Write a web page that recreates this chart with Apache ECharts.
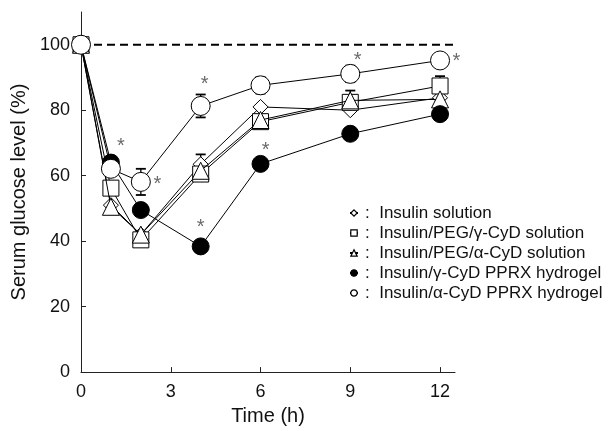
<!DOCTYPE html>
<html>
<head>
<meta charset="utf-8">
<script src="https://cdn.jsdelivr.net/npm/echarts@6/dist/echarts.min.js"></script>
<style>
  html, body { margin: 0; padding: 0; background: #fff; }
  #chart { width: 612px; height: 431px; }
</style>
</head>
<body>
<div id="chart"></div>
<script>
// time points (h)
const times = [0, 1, 2, 4, 6, 9, 12];
const xTicks = [0, 3, 6, 9, 12];
const yTicks = [0, 20, 40, 60, 80, 100];

// serum glucose level (%) per formulation
const insulinSol = [100, 51, 42, 63.5, 81, 80, 83.8];
const pegGamma   = [100, 56.2, 40.4, 60.5, 76.5, 82.4, 87.4];
const pegAlpha   = [100, 50.5, 42, 61.5, 77, 83, 83.3];
const gammaPprx  = [100, 64, 49.5, 38.4, 63.6, 72.8, 78.8];
const alphaPprx  = [100, 62.1, 58.1, 81.3, 87.6, 91.1, 95.2];

// error bars (S.E.), 0 where not visible
const errInsulin = [0, 0, 0, 3, 0, 0, 0];
const errPegGamma = [0, 2, 0, 0, 0, 0, 3];
const errPegAlpha = [0, 0, 0, 0, 0, 3, 0];
const errGammaPprx = [0, 0, 0, 0, 1.5, 0, 0];
const errAlphaPprx = [0, 0, 4, 3.5, 2.5, 2.5, 0];

// significance marks [time, level]
const stars = [[1.33, 70], [2.55, 58.5], [4.13, 89], [9.25, 96.5], [12.55, 96], [4.0, 45.5], [6.17, 69]];

const names = [
  'Insulin solution',
  'Insulin/PEG/γ-CyD solution',
  'Insulin/PEG/α-CyD solution',
  'Insulin/γ-CyD PPRX hydrogel',
  'Insulin/α-CyD PPRX hydrogel'
];

const chart = echarts.init(document.getElementById('chart'));

function lineSeries(name, vals, symbol, size, fill, z) {
  return {
    name: name,
    type: 'line',
    data: times.map((t, i) => [t, vals[i]]),
    symbol: symbol,
    symbolSize: size,
    showSymbol: true,
    z: z,
    lineStyle: { color: '#000', width: 1 },
    itemStyle: { color: fill, borderColor: '#000', borderWidth: 1 },
    emphasis: { disabled: true },
    animation: false
  };
}

function errSeries(vals, errs, z) {
  const d = [];
  times.forEach((t, i) => { if (errs[i] > 0) d.push([t, vals[i] - errs[i], vals[i] + errs[i]]); });
  return {
    type: 'custom',
    z: z,
    silent: true,
    animation: false,
    data: d,
    renderItem: function (params, api) {
      const lo = api.coord([api.value(0), api.value(1)]);
      const hi = api.coord([api.value(0), api.value(2)]);
      const w = 5;
      return {
        type: 'group',
        children: [
          { type: 'line', shape: { x1: lo[0], y1: lo[1], x2: hi[0], y2: hi[1] }, style: { stroke: '#000', lineWidth: 1.3 } },
          { type: 'line', shape: { x1: lo[0] - w, y1: lo[1], x2: lo[0] + w, y2: lo[1] }, style: { stroke: '#000', lineWidth: 1.8 } },
          { type: 'line', shape: { x1: hi[0] - w, y1: hi[1], x2: hi[0] + w, y2: hi[1] }, style: { stroke: '#000', lineWidth: 1.8 } }
        ]
      };
    }
  };
}

chart.setOption({
  backgroundColor: '#fff',
  animation: false,
  textStyle: { fontFamily: 'Liberation Sans, Arial, sans-serif', color: '#000' },
  grid: { left: 81, right: 157, top: 12, bottom: 56 },
  legend: {
    orient: 'vertical',
    left: 344,
    top: 198,
    itemWidth: 8,
    itemHeight: 8,
    itemGap: 0,
    selectedMode: false,
    data: names,
    itemStyle: { borderWidth: 1.2 },
    formatter: function (n) { return '{s|}:  ' + n; },
    textStyle: {
      fontSize: 17, lineHeight: 20, color: '#111', fontFamily: 'Liberation Sans, Arial, sans-serif',
      rich: { s: { width: 2, fontSize: 17, lineHeight: 20 } }
    }
  },
  xAxis: {
    type: 'value',
    min: 0,
    max: 12.5,
    name: 'Time (h)',
    nameLocation: 'middle',
    nameGap: 30,
    nameTextStyle: { fontSize: 20, color: '#111' },
    axisLine: { lineStyle: { color: '#222', width: 1 } },
    axisTick: { inside: true, length: 5, customValues: xTicks, lineStyle: { color: '#222' } },
    axisLabel: { customValues: xTicks, fontSize: 18, color: '#111', margin: 11 },
    splitLine: { show: false }
  },
  yAxis: {
    type: 'value',
    min: 0,
    max: 110,
    name: 'Serum glucose level (%)',
    nameLocation: 'middle',
    nameGap: 50,
    nameRotate: 90,
    nameTextStyle: { fontSize: 20, color: '#111' },
    axisLine: { show: true, lineStyle: { color: '#222', width: 1 } },
    axisTick: { show: true, inside: true, length: 5, customValues: yTicks, lineStyle: { color: '#222' } },
    axisLabel: { customValues: yTicks, fontSize: 18, color: '#111', margin: 11 },
    splitLine: { show: false }
  },
  series: [
    {
      type: 'line',
      data: [[0, 100], [12.5, 100]],
      symbol: 'none',
      z: 1,
      silent: true,
      lineStyle: { color: '#000', width: 2, type: [8, 5] },
      animation: false
    },
    lineSeries(names[0], insulinSol, 'diamond', 15, '#fff', 3),
    lineSeries(names[1], pegGamma, 'rect', 16, '#fff', 4),
    lineSeries(names[2], pegAlpha, 'triangle', 17, '#fff', 5),
    lineSeries(names[3], gammaPprx, 'circle', 17, '#000', 6),
    lineSeries(names[4], alphaPprx, 'circle', 19, '#fff', 7),
    errSeries(insulinSol, errInsulin, 2),
    errSeries(pegGamma, errPegGamma, 2),
    errSeries(pegAlpha, errPegAlpha, 2),
    errSeries(gammaPprx, errGammaPprx, 2),
    errSeries(alphaPprx, errAlphaPprx, 2),
    {
      type: 'scatter',
      data: stars,
      symbolSize: 0,
      clip: false,
      silent: true,
      z: 8,
      label: {
        show: true,
        position: 'inside',
        formatter: '*',
        fontSize: 20,
        color: '#444',
        offset: [0, 4]
      },
      animation: false
    }
  ]
});
</script>
</body>
</html>
